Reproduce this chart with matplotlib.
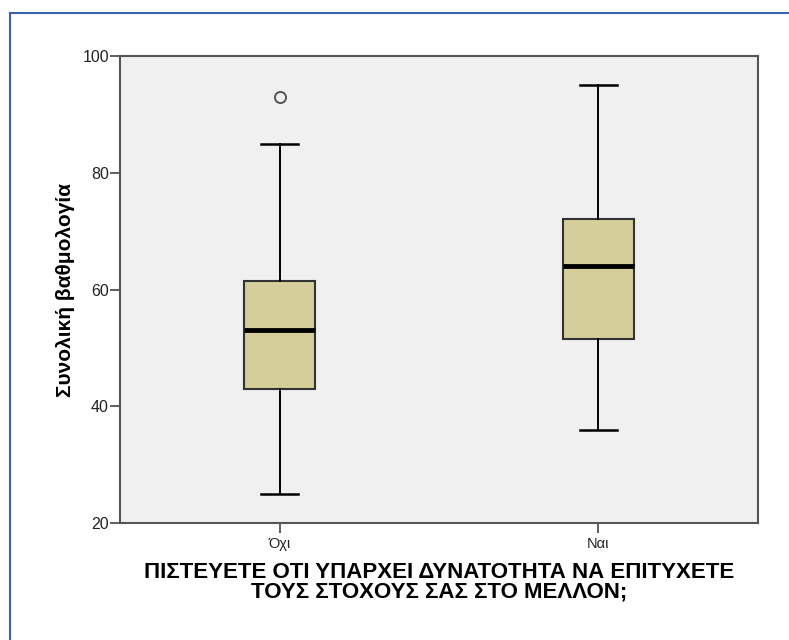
import matplotlib
matplotlib.use('Agg')
import matplotlib.pyplot as plt
from matplotlib.lines import Line2D

plt.rcParams['font.family'] = ['Liberation Sans', 'DejaVu Sans']

# Box statistics
groups = ['Όχι', 'Ναι']
whis_low = [25, 36]
q1 = [43, 51.5]
medians = [53, 64]
q3 = [61.5, 72]
whis_high = [85, 95]
outliers = [[93], []]

stats = []
for i, g in enumerate(groups):
    stats.append({'label': g, 'whislo': whis_low[i], 'q1': q1[i], 'med': medians[i],
                  'q3': q3[i], 'whishi': whis_high[i], 'fliers': outliers[i]})

fig = plt.figure(figsize=(7.89, 6.4), dpi=100)
ax = fig.add_axes([0.1521, 0.1828, 0.8086, 0.7297])
ax.set_facecolor('#f0f0f0')

ax.bxp(stats, positions=[0, 1], widths=0.223, capwidths=0.115, patch_artist=True,
       boxprops=dict(facecolor='#d3ce9a', edgecolor='#333333', linewidth=1.5),
       medianprops=dict(color='black', linewidth=3.5),
       whiskerprops=dict(color='black', linewidth=1.4),
       capprops=dict(color='black', linewidth=1.8),
       flierprops=dict(marker='o', markersize=8, markerfacecolor='none',
                       markeredgecolor='#555555', markeredgewidth=1.4))

ax.set_xlim(-0.5, 1.5)
ax.set_ylim(20, 100)
ax.set_yticks([20, 40, 60, 80, 100])
ax.set_xticks([0, 1])
ax.set_xticklabels(groups)
ax.tick_params(axis='y', length=7, width=1.2, color='#444444', labelsize=11.5, labelcolor='#222222', pad=1)
ax.tick_params(axis='x', length=7, width=1.2, color='#444444', labelsize=10.5, labelcolor='#222222', pad=3)
for s in ax.spines.values():
    s.set_color('#555555')
    s.set_linewidth(1.5)

ax.set_ylabel('Συνολική βαθμολογία', fontsize=15, fontweight='bold', labelpad=5)
ax.set_xlabel('ΠΙΣΤΕΥΕΤΕ ΟΤΙ ΥΠΑΡΧΕΙ ΔΥΝΑΤΟΤΗΤΑ ΝΑ ΕΠΙΤΥΧΕΤΕ\nΤΟΥΣ ΣΤΟΧΟΥΣ ΣΑΣ ΣΤΟ ΜΕΛΛΟΝ;',
              fontsize=16, fontweight='bold', labelpad=8, linespacing=0.92)

# blue frame of the output window (top and left edges)
fig.add_artist(Line2D([10 / 789, 1], [1 - 13 / 640, 1 - 13 / 640], color='#3a62b0', linewidth=1.5,
                      transform=fig.transFigure))
fig.add_artist(Line2D([10 / 789, 10 / 789], [0, 1 - 13 / 640], color='#3a62b0', linewidth=1.5,
                      transform=fig.transFigure))

plt.savefig('out.png', dpi=100)
